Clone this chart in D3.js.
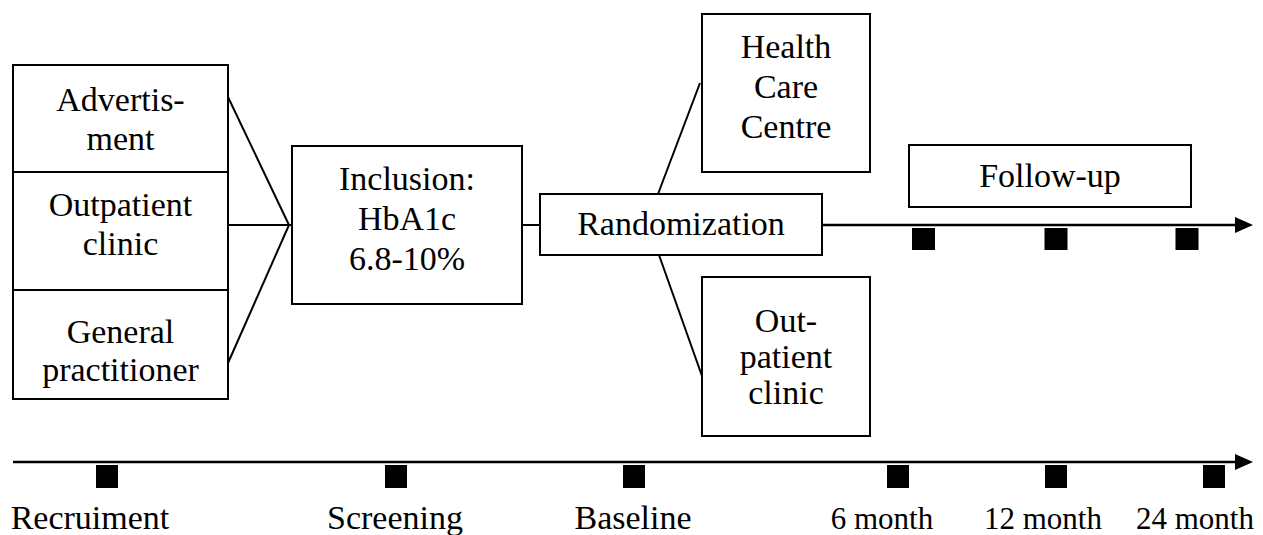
<!DOCTYPE html>
<html><head><meta charset="utf-8">
<script src="https://cdn.jsdelivr.net/npm/d3@7"></script></head>
<body style="margin:0">
<script>
// ---------- data ----------
const sourceLabels = [["Advertis-", "ment"], ["Outpatient", "clinic"], ["General", "practitioner"]];
const inclusionLabel = ["Inclusion:", "HbA1c", "6.8-10%"];
const randomizationLabel = ["Randomization"];
const armLabels = [["Health", "Care", "Centre"], ["Out-", "patient", "clinic"]];
const followUpLabel = ["Follow-up"];
const milestones = ["Recruiment", "Screening", "Baseline", "6 month", "12 month", "24 month"];
const followUpMilestones = ["6 month", "12 month", "24 month"];

// ---------- layout ----------
const W = 1263, H = 535;
const fontFor = (i) => ["Liberation Serif", "Tinos", "Times New Roman"][i % 3];
const svg = d3.select("body").append("svg").attr("width", W).attr("height", H)
  .style("display", "block");

const xTime = d3.scaleOrdinal().domain(milestones).range([107, 396, 634, 898, 1056, 1214]);
const labelX = d3.scaleOrdinal().domain(milestones).range([90, 395, 633, 882, 1043, 1195]);
const xFollow = d3.scaleOrdinal().domain(followUpMilestones).range([923.5, 1056, 1187]);

const boxes = [
  { lines: sourceLabels[0], x: 13, y: 65, w: 215, h: 107, base: 111, lh: 39 },
  { lines: sourceLabels[1], x: 13, y: 172, w: 215, h: 118, base: 216, lh: 39 },
  { lines: sourceLabels[2], x: 13, y: 290, w: 215, h: 109, base: 343, lh: 38 },
  { lines: inclusionLabel, x: 292, y: 146, w: 230, h: 158, base: 190, lh: 40 },
  { lines: randomizationLabel, x: 540, y: 194, w: 282, h: 61, base: 235, lh: 40 },
  { lines: armLabels[0], x: 702, y: 14, w: 168, h: 158, base: 58, lh: 40 },
  { lines: armLabels[1], x: 702, y: 277, w: 168, h: 159, base: 332, lh: 36 },
  { lines: followUpLabel, x: 909, y: 145, w: 282, h: 62, base: 187, lh: 40 }
];

const ink = "#000";

// connectors
const connectors = [
  [[228, 97], [289, 225]],
  [[228, 225], [292, 225]],
  [[228, 363], [289, 225]],
  [[522, 225], [540, 225]],
  [[658, 194], [700, 83]],
  [[659, 255], [702, 376]]
];
const line = d3.line();
svg.append("g").selectAll("path").data(connectors).join("path")
  .attr("d", d => line(d))
  .attr("fill", "none").attr("stroke", ink).attr("stroke-width", 2);

// boxes
const bg = svg.append("g").selectAll("g").data(boxes).join("g");
bg.append("rect")
  .attr("x", d => d.x).attr("y", d => d.y)
  .attr("width", d => d.w).attr("height", d => d.h)
  .attr("fill", "#fff").attr("stroke", ink).attr("stroke-width", 2);
let k = 0;
bg.each(function(d) {
  const g = d3.select(this);
  d.lines.forEach((t, i) => {
    g.append("text")
      .attr("x", d.x + d.w / 2)
      .attr("y", d.base + i * d.lh)
      .attr("text-anchor", "middle")
      .attr("font-family", fontFor(k++))
      .attr("font-size", 34)
      .text(t);
  });
});

// arrow marker
svg.append("defs").append("marker")
  .attr("id", "arr").attr("viewBox", "0 0 18 16")
  .attr("refX", 0).attr("refY", 8)
  .attr("markerWidth", 18).attr("markerHeight", 16)
  .attr("markerUnits", "userSpaceOnUse")
  .attr("orient", "auto")
  .append("path").attr("d", "M0,0 L18,8 L0,16 Z").attr("fill", ink);

// follow-up arrow
svg.append("line")
  .attr("x1", 822).attr("x2", 1235).attr("y1", 225).attr("y2", 225)
  .attr("stroke", ink).attr("stroke-width", 2.5).attr("marker-end", "url(#arr)");
svg.append("g").selectAll("rect").data(followUpMilestones).join("rect")
  .attr("x", d => xFollow(d) - 11.5)
  .attr("y", 228).attr("width", 23).attr("height", 22).attr("fill", ink);

// main timeline
svg.append("line")
  .attr("x1", 13).attr("x2", 1235).attr("y1", 462).attr("y2", 462)
  .attr("stroke", ink).attr("stroke-width", 2.5).attr("marker-end", "url(#arr)");
svg.append("g").selectAll("rect").data(milestones).join("rect")
  .attr("x", d => xTime(d) - 11).attr("y", 465)
  .attr("width", 22).attr("height", 23).attr("fill", ink);
svg.append("g").selectAll("text").data(milestones).join("text")
  .attr("x", d => labelX(d)).attr("y", 529)
  .attr("text-anchor", "middle")
  .attr("font-family", (d, i) => fontFor(i))
  .attr("font-size", (d, i) => i < 3 ? 34 : 31)
  .text(d => d);
</script>
</body></html>
